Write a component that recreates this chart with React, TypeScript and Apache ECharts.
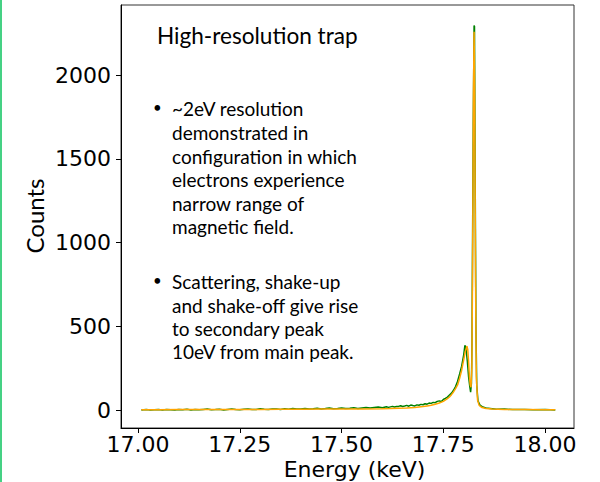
import React, { useEffect, useRef } from "react";
import * as echarts from "echarts";

// Measured spectrum (green) on a 10 eV grid below 17.60 keV, finer near the peaks
const measuredEnergy = [
  17.008, 17.02, 17.03, 17.04, 17.05, 17.06, 17.07, 17.08, 17.09, 17.1,
  17.11, 17.12, 17.13, 17.14, 17.15, 17.16, 17.17, 17.18, 17.19, 17.2,
  17.21, 17.22, 17.23, 17.24, 17.25, 17.26, 17.27, 17.28, 17.29, 17.3,
  17.31, 17.32, 17.33, 17.34, 17.35, 17.36, 17.37, 17.38, 17.39, 17.4,
  17.41, 17.42, 17.43, 17.44, 17.45, 17.46, 17.47, 17.48, 17.49, 17.5,
  17.51, 17.52, 17.53, 17.54, 17.55, 17.56, 17.57, 17.58, 17.59, 17.6,
  17.605, 17.61, 17.615, 17.62, 17.625, 17.63, 17.635, 17.64, 17.645, 17.65,
  17.655, 17.66, 17.665, 17.67, 17.675, 17.68, 17.685, 17.69, 17.695, 17.7,
  17.705, 17.71, 17.715, 17.72, 17.725, 17.73, 17.735, 17.74, 17.745, 17.75,
  17.755, 17.76, 17.765, 17.77, 17.775, 17.78, 17.785, 17.79, 17.795, 17.8,
  17.803, 17.806, 17.809, 17.812, 17.815, 17.817, 17.819, 17.8205, 17.8215, 17.8235,
  17.8255, 17.8265, 17.828, 17.83, 17.832, 17.835, 17.84, 17.847, 17.855, 17.87,
  17.88, 17.9, 17.92, 17.95, 17.97, 18.0, 18.025,
];
const measuredCounts = [
  1, 3, 0, 2, 4, 1, 3, 2, 0, 4,
  2, 5, 1, 3, 2, 4, 6, 2, 3, 5,
  1, 4, 6, 3, 2, 5, 7, 3, 4, 8,
  5, 3, 7, 6, 4, 8, 5, 9, 6, 7,
  10, 6, 8, 11, 7, 9, 12, 8, 10, 13,
  9, 11, 14, 10, 13, 16, 12, 15, 18, 14,
  17, 20, 16, 19, 22, 18, 21, 22, 26, 21,
  24, 28, 23, 30, 27, 25, 31, 29, 34, 32,
  38, 35, 42, 40, 46, 44, 52, 55, 51, 63,
  70, 78, 90, 101, 118, 140, 172, 215, 262, 330,
  387, 360, 290, 200, 140, 107, 160, 420, 905, 1700,
  2295, 2290, 1500, 500, 150, 55, 30, 18, 12, 8,
  5, 6, 3, 4, 2, 3, 1,
];

// Fitted line shape (orange)
const fitEnergy = [
  17.008, 17.05, 17.1, 17.15, 17.2, 17.25, 17.3, 17.35, 17.4, 17.45,
  17.5, 17.55, 17.6, 17.62, 17.64, 17.66, 17.68, 17.7, 17.71, 17.72,
  17.73, 17.74, 17.75, 17.76, 17.765, 17.77, 17.775, 17.78, 17.785, 17.79,
  17.795, 17.8, 17.804, 17.808, 17.81, 17.812, 17.814, 17.816, 17.818, 17.82,
  17.822, 17.824, 17.8255, 17.827, 17.829, 17.831, 17.834, 17.838, 17.845, 17.855,
  17.87, 17.9, 17.95, 18.0, 18.025,
];
const fitCounts = [
  2, 2, 3, 3, 3, 4, 4, 5, 5, 6,
  7, 7, 8, 9, 11, 13, 16, 21, 25, 29,
  35, 42, 52, 68, 78, 92, 108, 128, 150, 190,
  238, 300, 350, 382, 360, 290, 200, 150, 137, 250,
  900, 1900, 2258, 1900, 800, 200, 60, 28, 15, 10,
  6, 4, 3, 2, 2,
];

const xTicks = [17.0, 17.25, 17.5, 17.75, 18.0];
const yTicks = [0, 500, 1000, 1500, 2000];

const heading = "High-resolution trap";
const bulletOne = [
  "~2eV resolution",
  "demonstrated in",
  "configuration in which",
  "electrons experience",
  "narrow range of",
  "magnetic field.",
];
const bulletTwo = [
  "Scattering, shake-up",
  "and shake-off give rise",
  "to secondary peak",
  "10eV from main peak.",
];

const pairs = (xs: number[], ys: number[]) => xs.map((x, i) => [x, ys[i]]);

const slideFont = "Lato";
const plotFont = "DejaVu Sans";

export default function App() {
  const ref = useRef<HTMLDivElement>(null);

  useEffect(() => {
    if (!ref.current) return;
    const chart = echarts.init(ref.current, undefined, { renderer: "svg" });
    const bodyStyle = { fill: "#000", fontFamily: slideFont, fontSize: 19 };
    const dotStyle = { fill: "#000", fontFamily: slideFont, fontSize: 15, text: "•" };
    chart.setOption({
      animation: false,
      backgroundColor: "#fff",
      grid: {
        left: 121,
        right: 26,
        top: 5,
        bottom: 54,
        show: true,
        borderColor: "#333",
        borderWidth: 1,
        containLabel: false,
        outerBoundsMode: "none",
      },
      xAxis: {
        type: "value",
        min: 16.958,
        max: 18.071,
        name: "Energy (keV)",
        nameLocation: "middle",
        nameGap: 30,
        nameMoveOverlap: false,
        nameTextStyle: {
          fontFamily: plotFont,
          fontSize: 22,
          color: "#000",
          padding: [0, 0, 0, 14],
        },
        axisLine: { show: true, onZero: false, lineStyle: { color: "#000", width: 1 } },
        axisTick: { show: true, length: 5, customValues: xTicks, lineStyle: { color: "#000" } },
        axisLabel: {
          customValues: xTicks,
          formatter: (v: number) => v.toFixed(2),
          fontFamily: plotFont,
          fontSize: 22,
          color: "#000",
          margin: 5,
        },
        splitLine: { show: false },
      },
      yAxis: {
        type: "value",
        min: -107,
        max: 2418,
        axisLine: { show: true, onZero: false, lineStyle: { color: "#000", width: 1 } },
        axisTick: { show: true, length: 5, customValues: yTicks, lineStyle: { color: "#000" } },
        axisLabel: {
          customValues: yTicks,
          formatter: (v: number) => String(Math.round(v)),
          fontFamily: plotFont,
          fontSize: 22,
          color: "#000",
          margin: 10,
        },
        splitLine: { show: false },
      },
      series: [
        {
          type: "line",
          name: "data",
          data: pairs(measuredEnergy, measuredCounts),
          showSymbol: false,
          symbol: "none",
          lineStyle: { color: "#008000", width: 1.5 },
          z: 2,
        },
        {
          type: "line",
          name: "fit",
          data: pairs(fitEnergy, fitCounts),
          showSymbol: false,
          symbol: "none",
          lineStyle: { color: "#ffa500", width: 1.5 },
          z: 3,
        },
      ],
      graphic: [
        { type: "rect", left: 0, top: 0, shape: { width: 2, height: 482 }, style: { fill: "#45d184" } },
        {
          type: "text",
          x: 34,
          y: 216,
          rotation: Math.PI / 2,
          style: { text: "Counts", fill: "#000", fontFamily: slideFont, fontSize: 24, align: "center", verticalAlign: "middle" },
        },
        {
          type: "text",
          x: 157,
          y: 24,
          style: { text: heading, fill: "#000", fontFamily: slideFont, fontSize: 22.6 },
        },
        { type: "text", x: 153, y: 99, style: dotStyle },
        {
          type: "text",
          x: 172,
          y: 97,
          style: { ...bodyStyle, text: bulletOne.join("\n"), lineHeight: 23.6 },
        },
        { type: "text", x: 153, y: 272, style: dotStyle },
        {
          type: "text",
          x: 172,
          y: 270,
          style: { ...bodyStyle, text: bulletTwo.join("\n"), lineHeight: 23.4 },
        },
      ],
    });
    return () => chart.dispose();
  }, []);

  return (
    <div
      ref={ref}
      style={{ position: "fixed", left: 0, top: 0, width: 600, height: 482 }}
    />
  );
}
